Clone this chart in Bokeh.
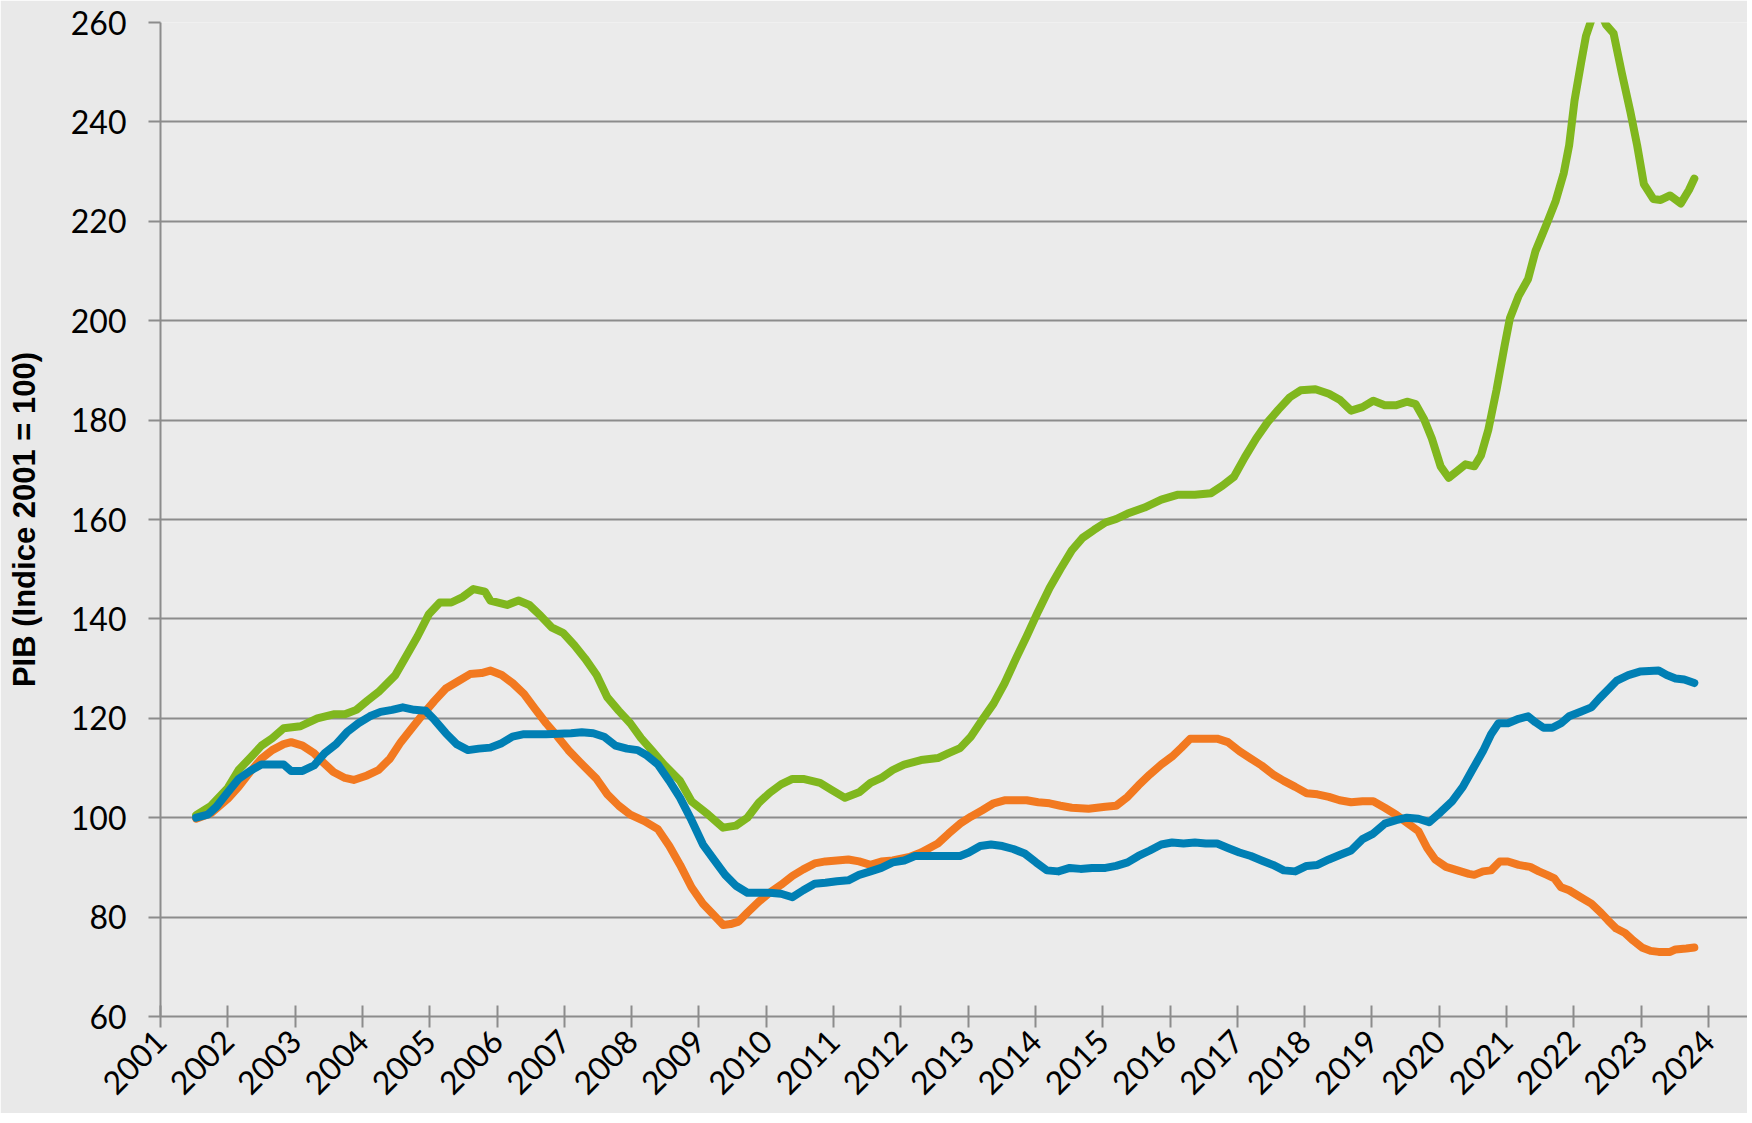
import math
from bokeh.plotting import figure
from bokeh.models import Range1d, FixedTicker
from bokeh.embed import file_html
from bokeh.resources import INLINE

# ---------------- data ----------------
years = list(range(2001, 2025))
y_ticks = list(range(60, 261, 20))

green_x = [2001.53, 2001.75, 2002.00, 2002.16, 2002.33, 2002.50, 2002.66, 2002.83, 2003.08, 2003.33,
           2003.57, 2003.74, 2003.91, 2004.07, 2004.24, 2004.49, 2004.65, 2004.82, 2004.99, 2005.15,
           2005.32, 2005.49, 2005.65, 2005.82, 2005.90, 2006.15, 2006.32, 2006.48, 2006.65, 2006.81,
           2006.98, 2007.15, 2007.31, 2007.48, 2007.64, 2007.81, 2007.98, 2008.14, 2008.31, 2008.48,
           2008.72, 2008.89, 2009.14, 2009.36, 2009.55, 2009.72, 2009.89, 2010.05, 2010.22, 2010.39,
           2010.55, 2010.80, 2010.97, 2011.17, 2011.38, 2011.55, 2011.71, 2011.88, 2012.05, 2012.30,
           2012.55, 2012.71, 2012.88, 2013.04, 2013.21, 2013.38, 2013.54, 2013.71, 2013.87, 2014.04,
           2014.21, 2014.37, 2014.54, 2014.70, 2014.87, 2015.04, 2015.20, 2015.37, 2015.62, 2015.87,
           2016.12, 2016.37, 2016.61, 2016.78, 2016.95, 2017.11, 2017.28, 2017.45, 2017.61, 2017.78,
           2017.94, 2018.16, 2018.36, 2018.52, 2018.69, 2018.86, 2019.02, 2019.19, 2019.36, 2019.52,
           2019.65, 2019.77, 2019.89, 2020.02, 2020.14, 2020.27, 2020.39, 2020.52, 2020.62, 2020.73,
           2020.85, 2020.97, 2021.05, 2021.18, 2021.32, 2021.43, 2021.60, 2021.73, 2021.85, 2021.93,
           2022.01, 2022.11, 2022.18, 2022.31, 2022.40, 2022.48, 2022.59, 2022.71, 2022.84, 2022.94,
           2023.04, 2023.18, 2023.29, 2023.43, 2023.59, 2023.71, 2023.79]
green_y = [100.5, 102.4, 106.0, 109.6, 112.0, 114.5, 116.0, 118.0, 118.4, 120.0,
           120.8, 120.8, 121.7, 123.5, 125.3, 128.7, 132.5, 136.5, 141.0, 143.3,
           143.3, 144.4, 146.0, 145.5, 143.7, 142.8, 143.7, 142.8, 140.6, 138.3,
           137.2, 134.7, 132.0, 128.7, 124.2, 121.5, 119.0, 116.0, 113.4, 110.7,
           107.4, 103.3, 100.6, 98.0, 98.4, 100.0, 103.0, 105.0, 106.7, 107.8,
           107.8, 107.0, 105.6, 104.0, 105.1, 107.0, 108.0, 109.6, 110.7, 111.6,
           112.0, 113.0, 114.0, 116.3, 119.7, 123.0, 127.0, 132.0, 136.5, 141.5,
           146.2, 150.0, 153.8, 156.3, 157.9, 159.4, 160.1, 161.2, 162.4, 164.0,
           165.0, 165.0, 165.3, 166.8, 168.6, 172.5, 176.3, 179.6, 182.1, 184.6,
           186.0, 186.2, 185.3, 184.1, 181.9, 182.6, 183.9, 183.0, 183.0, 183.7,
           183.2, 180.3, 176.3, 170.7, 168.4, 169.8, 171.1, 170.7, 172.9, 178.1,
           186.0, 194.9, 200.5, 205.0, 208.4, 214.0, 219.6, 224.1, 229.7, 235.3,
           244.3, 252.1, 257.3, 262.5, 262.0, 259.5, 257.8, 250.0, 242.0, 235.3,
           227.5, 224.5, 224.3, 225.2, 223.6, 226.3, 228.6]

orange_x = [2001.53, 2001.75, 2002.00, 2002.16, 2002.33, 2002.50, 2002.66, 2002.83, 2002.94, 2003.11,
            2003.28, 2003.41, 2003.57, 2003.74, 2003.87, 2004.07, 2004.24, 2004.41, 2004.57, 2004.74,
            2004.90, 2005.07, 2005.24, 2005.44, 2005.60, 2005.77, 2005.90, 2006.07, 2006.23, 2006.40,
            2006.56, 2006.73, 2006.90, 2007.06, 2007.23, 2007.48, 2007.64, 2007.81, 2007.98, 2008.19,
            2008.39, 2008.56, 2008.72, 2008.89, 2009.06, 2009.22, 2009.36, 2009.47, 2009.59, 2009.72,
            2009.89, 2010.05, 2010.22, 2010.39, 2010.55, 2010.72, 2010.88, 2011.05, 2011.22, 2011.38,
            2011.55, 2011.71, 2011.88, 2012.13, 2012.30, 2012.55, 2012.71, 2012.88, 2013.04, 2013.21,
            2013.38, 2013.54, 2013.71, 2013.87, 2014.04, 2014.21, 2014.37, 2014.54, 2014.79, 2015.04,
            2015.20, 2015.37, 2015.53, 2015.70, 2015.87, 2016.03, 2016.17, 2016.30, 2016.45, 2016.70,
            2016.86, 2017.03, 2017.20, 2017.36, 2017.53, 2017.69, 2017.86, 2018.03, 2018.19, 2018.36,
            2018.52, 2018.69, 2018.86, 2019.02, 2019.19, 2019.36, 2019.52, 2019.69, 2019.82, 2019.94,
            2020.10, 2020.27, 2020.44, 2020.52, 2020.65, 2020.77, 2020.90, 2021.02, 2021.18, 2021.35,
            2021.48, 2021.60, 2021.71, 2021.81, 2021.93, 2022.10, 2022.26, 2022.40, 2022.51, 2022.63,
            2022.76, 2022.88, 2023.01, 2023.14, 2023.26, 2023.43, 2023.51, 2023.67, 2023.79]
orange_y = [99.8, 100.9, 103.8, 106.2, 109.2, 111.9, 113.6, 114.8, 115.2, 114.5,
            113.0, 111.2, 109.2, 108.0, 107.6, 108.5, 109.6, 111.9, 115.2, 118.1,
            120.8, 123.5, 126.0, 127.6, 128.9, 129.1, 129.6, 128.7, 127.1, 124.9,
            122.0, 119.0, 116.3, 113.6, 111.2, 107.8, 104.7, 102.4, 100.6, 99.3,
            97.7, 94.3, 90.5, 86.0, 82.7, 80.4, 78.4, 78.6, 79.1, 80.9,
            83.1, 84.9, 86.5, 88.3, 89.6, 90.8, 91.2, 91.4, 91.6, 91.2,
            90.5, 91.2, 91.4, 92.1, 93.0, 94.8, 96.8, 98.8, 100.2, 101.5,
            102.9, 103.5, 103.5, 103.5, 103.1, 102.9, 102.4, 102.0, 101.8, 102.2,
            102.4, 104.2, 106.5, 108.7, 110.7, 112.3, 114.1, 115.9, 115.9, 115.9,
            115.2, 113.4, 111.9, 110.5, 108.7, 107.4, 106.2, 104.9, 104.7, 104.2,
            103.5, 103.1, 103.3, 103.3, 102.0, 100.6, 99.0, 97.3, 93.9, 91.6,
            90.1, 89.4, 88.7, 88.5, 89.2, 89.4, 91.2, 91.2, 90.5, 90.1,
            89.2, 88.5, 87.8, 86.0, 85.4, 84.0, 82.7, 80.9, 79.3, 77.7,
            76.8, 75.3, 73.9, 73.2, 73.0, 73.0, 73.5, 73.7, 73.9]

blue_x = [2001.53, 2001.70, 2001.83, 2002.00, 2002.16, 2002.33, 2002.50, 2002.66, 2002.83, 2002.94,
          2003.11, 2003.28, 2003.44, 2003.61, 2003.77, 2003.94, 2004.11, 2004.27, 2004.44, 2004.60,
          2004.77, 2004.94, 2005.07, 2005.24, 2005.40, 2005.57, 2005.73, 2005.90, 2006.07, 2006.23,
          2006.40, 2006.73, 2007.10, 2007.26, 2007.43, 2007.59, 2007.76, 2007.93, 2008.09, 2008.23,
          2008.39, 2008.56, 2008.72, 2008.89, 2009.06, 2009.22, 2009.39, 2009.55, 2009.72, 2010.05,
          2010.22, 2010.39, 2010.55, 2010.72, 2010.88, 2011.05, 2011.22, 2011.38, 2011.55, 2011.71,
          2011.88, 2012.05, 2012.21, 2012.63, 2012.88, 2013.01, 2013.18, 2013.34, 2013.51, 2013.67,
          2013.84, 2014.01, 2014.17, 2014.34, 2014.51, 2014.67, 2014.84, 2015.04, 2015.20, 2015.37,
          2015.53, 2015.70, 2015.87, 2016.03, 2016.20, 2016.37, 2016.53, 2016.70, 2016.86, 2017.03,
          2017.20, 2017.36, 2017.53, 2017.69, 2017.86, 2018.03, 2018.19, 2018.36, 2018.52, 2018.69,
          2018.86, 2019.02, 2019.19, 2019.36, 2019.52, 2019.69, 2019.85, 2020.02, 2020.19, 2020.35,
          2020.49, 2020.65, 2020.77, 2020.88, 2021.02, 2021.18, 2021.32, 2021.43, 2021.55, 2021.68,
          2021.81, 2021.93, 2022.10, 2022.26, 2022.38, 2022.51, 2022.64, 2022.81, 2022.98, 2023.26,
          2023.38, 2023.51, 2023.64, 2023.79]
blue_y = [100.0, 100.6, 102.2, 105.1, 107.8, 109.4, 110.7, 110.7, 110.7, 109.4,
          109.4, 110.5, 113.0, 114.8, 117.2, 119.0, 120.4, 121.3, 121.7, 122.2,
          121.7, 121.5, 119.7, 117.0, 114.8, 113.6, 113.9, 114.1, 115.0, 116.3,
          116.8, 116.8, 117.0, 117.2, 117.0, 116.3, 114.5, 113.9, 113.6, 112.5,
          110.7, 107.4, 104.0, 99.5, 94.6, 91.6, 88.5, 86.3, 84.9, 84.9,
          84.7, 84.0, 85.4, 86.7, 86.9, 87.2, 87.4, 88.5, 89.2, 89.9,
          91.0, 91.4, 92.3, 92.3, 92.3, 93.0, 94.3, 94.6, 94.3, 93.7,
          92.8, 91.0, 89.4, 89.2, 89.9, 89.7, 89.9, 89.9, 90.3, 91.0,
          92.3, 93.4, 94.6, 95.0, 94.8, 95.0, 94.8, 94.8, 93.9, 93.0,
          92.3, 91.4, 90.5, 89.4, 89.2, 90.3, 90.5, 91.6, 92.5, 93.4,
          95.7, 96.8, 98.8, 99.5, 100.0, 99.8, 99.1, 101.1, 103.3, 106.2,
          109.6, 113.4, 116.8, 119.0, 119.0, 119.9, 120.4, 119.2, 118.1, 118.1,
          119.0, 120.4, 121.3, 122.2, 124.0, 125.8, 127.6, 128.7, 129.4, 129.6,
          128.7, 128.0, 127.8, 127.1]

y_axis_label = "PIB (Indice 2001 = 100)"

# ---------------- figure ----------------
p = figure(width=1747, height=1113, output_backend="svg", toolbar_location=None,
           x_range=Range1d(2001, 2024.58), y_range=Range1d(60, 260),
           min_border_left=160, min_border_right=0, min_border_top=22, min_border_bottom=97)

p.background_fill_color = "#ebebeb"
p.border_fill_color = "#e9e9e9"
p.outline_line_color = None

GRID = "#8c8c8c"
p.xgrid.grid_line_color = None
p.ygrid.grid_line_color = GRID
p.ygrid.grid_line_width = 2
p.ygrid.ticker = FixedTicker(ticks=y_ticks)

# y axis
p.yaxis.ticker = FixedTicker(ticks=y_ticks)
p.yaxis.axis_line_color = GRID
p.yaxis.axis_line_width = 2
p.yaxis.major_tick_line_color = GRID
p.yaxis.major_tick_line_width = 2
p.yaxis.major_tick_in = 0
p.yaxis.major_tick_out = 12
p.yaxis.minor_tick_line_color = None
p.yaxis.major_label_text_font = "Lato"
p.yaxis.major_label_text_font_size = "32px"
p.yaxis.major_label_text_color = "black"
p.yaxis.major_label_standoff = 22
p.yaxis.axis_label = y_axis_label
p.yaxis.axis_label_text_font = "Liberation Sans"
p.yaxis.axis_label_text_font_style = "bold"
p.yaxis.axis_label_text_font_size = "31px"
p.yaxis.axis_label_text_color = "black"
p.yaxis.axis_label_standoff = 26

# x axis
p.xaxis.ticker = FixedTicker(ticks=years)
p.xaxis.axis_line_color = GRID
p.xaxis.axis_line_width = 2
p.xaxis.major_tick_line_color = GRID
p.xaxis.major_tick_line_width = 2
p.xaxis.major_tick_in = 11
p.xaxis.major_tick_out = 11
p.xaxis.minor_tick_line_color = None
p.xaxis.major_label_text_font = "Lato"
p.xaxis.major_label_text_font_size = "32px"
p.xaxis.major_label_text_color = "black"
p.xaxis.major_label_orientation = math.pi / 4
p.xaxis.major_label_standoff = 8

# lines
p.line(green_x, green_y, line_width=8, line_color="#80b71e", line_join="round", line_cap="round")
p.line(orange_x, orange_y, line_width=8, line_color="#f27920", line_join="round", line_cap="round")
p.line(blue_x, blue_y, line_width=8, line_color="#007fb4", line_join="round", line_cap="round")

open("out.html", "w").write(file_html(p, INLINE))
